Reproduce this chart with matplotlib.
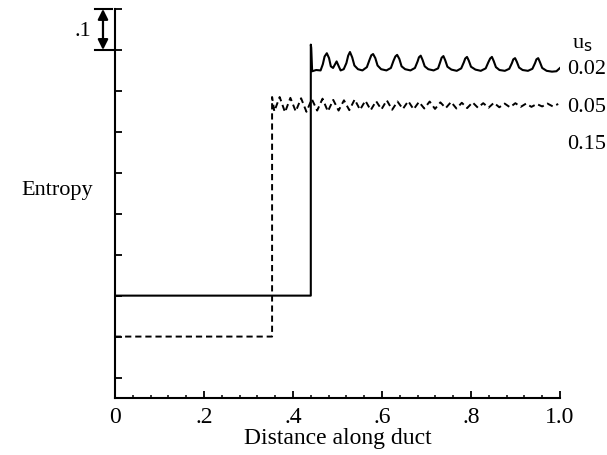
import numpy as np
import matplotlib
matplotlib.use("Agg")
import matplotlib.pyplot as plt

plt.rcParams['font.family'] = ['Liberation Serif', 'DejaVu Serif']

# ---- data ----
# u_s = 0.02 (solid): flat, jump, then oscillation
solid_x = [0.0, 0.440, 0.440, 0.441, 0.443, 0.452, 0.462, 0.467, 0.471, 0.476, 0.481,
           0.485, 0.490, 0.494, 0.498, 0.502, 0.507, 0.514, 0.520, 0.524, 0.528,
           0.533, 0.538, 0.546, 0.556, 0.566, 0.572, 0.576, 0.580, 0.585, 0.590,
           0.598, 0.610, 0.620, 0.626, 0.630, 0.634, 0.639, 0.644, 0.652, 0.664,
           0.674, 0.680, 0.683, 0.687, 0.691, 0.696, 0.704, 0.716, 0.726, 0.731,
           0.734, 0.738, 0.742, 0.747, 0.756, 0.768, 0.778, 0.784, 0.787, 0.791,
           0.795, 0.800, 0.810, 0.822, 0.833, 0.839, 0.843, 0.847, 0.851, 0.856,
           0.864, 0.876, 0.886, 0.892, 0.895, 0.899, 0.903, 0.908, 0.916, 0.928,
           0.938, 0.944, 0.947, 0.951, 0.955, 0.960, 0.970, 0.982, 0.992, 1.0]
solid_y = [0.250, 0.250, 0.863, 0.855, 0.798, 0.801, 0.800, 0.815, 0.834, 0.842, 0.830,
           0.810, 0.806, 0.814, 0.822, 0.812, 0.800, 0.803, 0.818, 0.836, 0.845,
           0.832, 0.812, 0.803, 0.800, 0.808, 0.826, 0.837, 0.840, 0.830, 0.812,
           0.803, 0.800, 0.806, 0.824, 0.834, 0.838, 0.828, 0.810, 0.803, 0.800,
           0.806, 0.822, 0.832, 0.836, 0.826, 0.810, 0.803, 0.800, 0.805, 0.821,
           0.831, 0.835, 0.825, 0.809, 0.802, 0.799, 0.805, 0.820, 0.829, 0.833,
           0.824, 0.809, 0.802, 0.799, 0.805, 0.820, 0.829, 0.833, 0.823, 0.808,
           0.801, 0.799, 0.804, 0.818, 0.827, 0.830, 0.821, 0.807, 0.801, 0.799,
           0.804, 0.818, 0.827, 0.830, 0.820, 0.806, 0.799, 0.797, 0.798, 0.806]

# u_s = 0.05 (dashed): flat, jump, fast oscillation
dash_flat_x = [0.0, 0.353, 0.353]
dash_flat_y = [0.150, 0.150, 0.735]
dash_osc_y = [0.700, 0.735, 0.698, 0.733, 0.700, 0.732, 0.699, 0.730, 0.702, 0.731,
              0.700, 0.728, 0.702, 0.727, 0.703, 0.729, 0.704, 0.726, 0.703, 0.725,
              0.705, 0.727, 0.704, 0.724, 0.706, 0.725, 0.705, 0.723, 0.707, 0.724,
              0.706, 0.722, 0.708, 0.723, 0.707, 0.721, 0.708, 0.722, 0.709, 0.720,
              0.709, 0.721, 0.710, 0.719, 0.710, 0.720, 0.711, 0.719, 0.711, 0.718,
              0.712, 0.719, 0.712, 0.718]
dash_osc_x = list(np.linspace(0.358, 0.996, len(dash_osc_y)))

legend_title = "u"
legend_labels = ["0.02", "0.05", "0.15"]
xtick_vals = [0.0, 0.2, 0.4, 0.6, 0.8, 1.0]
xtick_labels = ["0", ".2", ".4", ".6", ".8", "1.0"]
ytick_vals = [0.05, 0.15, 0.25, 0.35, 0.45, 0.55, 0.65, 0.75, 0.85, 0.95]

# ---- figure ----
fig = plt.figure(figsize=(6.07, 4.56), dpi=100)
ax = fig.add_axes([115/607, 57/456, 445/607, 389/456])

ax.plot(solid_x, solid_y, color='black', lw=1.5, solid_joinstyle='round')
ax.plot(dash_flat_x + dash_osc_x, dash_flat_y + dash_osc_y, color='black', lw=1.4,
        dashes=(3.2, 2.0))

ax.set_xlim(0, 1.0)
ax.set_ylim(0, 0.95)
for s in ['top', 'right']:
    ax.spines[s].set_visible(False)
for s in ['left', 'bottom']:
    ax.spines[s].set_linewidth(1.5)

ax.set_xticks(xtick_vals)
ax.set_xticklabels(xtick_labels, fontsize=17)
ax.set_xticks(np.arange(0.04, 1.0, 0.04), minor=True)
ax.set_yticks(ytick_vals)
ax.set_yticklabels([])
ax.tick_params(axis='x', which='major', direction='in', length=5, width=1.3, pad=6)
ax.tick_params(axis='x', which='minor', direction='in', length=2.5, width=1.1)
ax.tick_params(axis='y', which='major', direction='in', length=5, width=1.3)

ax.set_xlabel("Distance along duct", fontsize=17, labelpad=0)

fig.text(57/607, 1 - 190/456, "Entropy", fontsize=16, ha='center', va='center')

# scale bar ".1"
ax.annotate("", xy=(-0.027, 0.95), xytext=(-0.027, 0.85),
            xycoords='data', textcoords='data',
            arrowprops=dict(arrowstyle='<|-|>', color='black', lw=1.6,
                            shrinkA=0, shrinkB=0, mutation_scale=15),
            annotation_clip=False)
ax.plot([-0.045, -0.007], [0.95, 0.95], color='black', lw=1.5, clip_on=False)
ax.plot([-0.045, -0.005], [0.85, 0.85], color='black', lw=1.5, clip_on=False)
fig.text(83/607, 1 - 31/456, ".1", fontsize=16, ha='center', va='center')

# legend texts
fig.text(582/607, 1 - 45/456, legend_title + "$_{\\mathrm{s}}$", fontsize=16,
         ha='center', va='center')
for lab, yp in zip(legend_labels, [70, 107, 145]):
    fig.text(567/607, 1 - yp/456, lab, fontsize=16, ha='left', va='center')

fig.savefig("out.png", dpi=100)
